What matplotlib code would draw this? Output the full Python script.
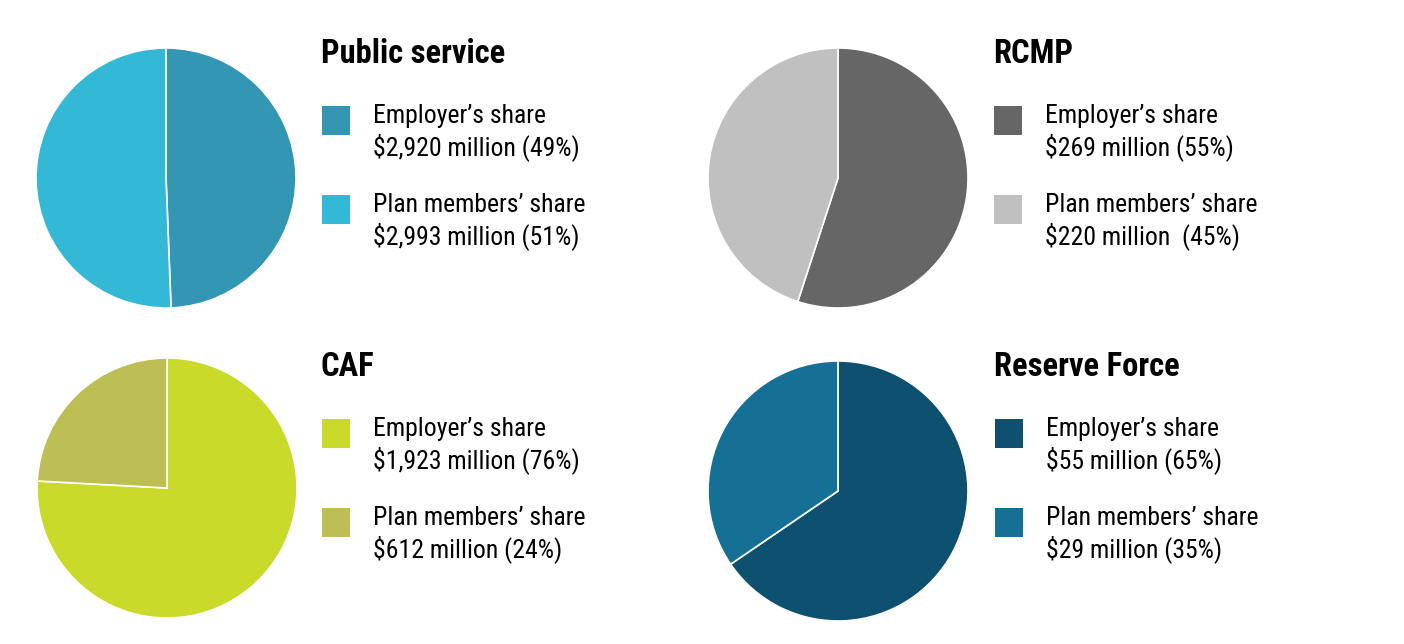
import matplotlib.pyplot as plt
from matplotlib.patches import Rectangle

W, H = 1404, 644

# data
groups = ["Public service", "RCMP", "CAF", "Reserve Force"]
employer = [2920, 269, 1923, 55]
members = [2993, 220, 612, 29]
employer_labels = ["$2,920 million (49%)", "$269 million (55%)",
                   "$1,923 million (76%)", "$55 million (65%)"]
member_labels = ["$2,993 million (51%)", "$220 million  (45%)",
                 "$612 million (24%)", "$29 million (35%)"]
colors = [("#3396b3", "#33b8d6"), ("#666666", "#c0c0c0"),
          ("#c9da2a", "#bdbf55"), ("#0d5070", "#166f94")]

# layout (pixels): pie centre, text column x, row offset
pie_centres = [(166, 178), (838, 178), (167, 488), (838, 491)]
text_x = [322, 994, 322, 995]
row_dy = [0, 0, 313, 313]
R = 130

plt.rcParams['font.family'] = ['Roboto Condensed', 'Liberation Sans Narrow', 'DejaVu Sans']
fig = plt.figure(figsize=(W / 100, H / 100), dpi=100)


def fx(x):
    return x / W


def fy(y):
    return 1 - y / H


for i, g in enumerate(groups):
    cx, cy = pie_centres[i]
    ax = fig.add_axes([fx(cx - R), fy(cy + R), 2 * R / W, 2 * R / H])
    ax.pie([employer[i], members[i]], colors=colors[i], startangle=90,
           counterclock=False, radius=1,
           wedgeprops=dict(edgecolor='white', linewidth=1.2))
    ax.set_xlim(-1, 1)
    ax.set_ylim(-1, 1)
    ax.set_aspect('auto')
    ax.axis('off')

    x0 = text_x[i]
    dy = row_dy[i]
    fig.text(fx(x0 - 1), fy(63 + dy), g, fontsize=23.5, fontweight='bold',
             va='baseline', ha='left')
    for j, (name, lab) in enumerate([("Employer\u2019s share", employer_labels[i]),
                                     ("Plan members\u2019 share", member_labels[i])]):
        top = 106 + dy + j * 89
        fig.patches.append(Rectangle((fx(x0), fy(top + 29)), 28 / W, 29 / H,
                                     transform=fig.transFigure,
                                     facecolor=colors[i][j], edgecolor='none'))
        fig.text(fx(x0 + 51), fy(top + 17), name, fontsize=18.5,
                 va='baseline', ha='left')
        fig.text(fx(x0 + 51), fy(top + 49), lab, fontsize=18.5,
                 va='baseline', ha='left')

fig.savefig("out.png", dpi=100, facecolor='white')
